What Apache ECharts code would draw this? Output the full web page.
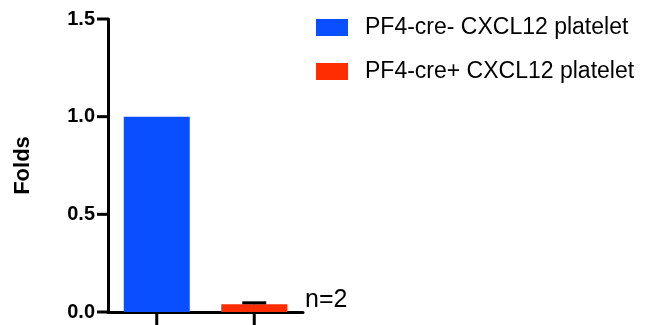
<!DOCTYPE html>
<html><head><meta charset="utf-8">
<script src="https://cdn.jsdelivr.net/npm/echarts@6/dist/echarts.min.js"></script>
<style>html,body{margin:0;padding:0;background:#fff}#c{width:651px;height:325px}</style>
</head><body><div id="c"></div>
<script>
const categories = ['PF4-cre- CXCL12 platelet', 'PF4-cre+ CXCL12 platelet'];
const seriesNames = ['PF4-cre- CXCL12 platelet', 'PF4-cre+ CXCL12 platelet'];
const means = [1.0, 0.04];
const errorsUpper = [null, 0.047];
const yTicks = [0, 0.5, 1.0, 1.5];
const colors = ['#0a4fff', '#ff2d00'];

const chart = echarts.init(document.getElementById('c'), null, {renderer: 'canvas'});
const font = 'Liberation Sans, Arial, sans-serif';
chart.setOption({
  animation: false,
  textStyle: {fontFamily: font},
  grid: {left: 108, right: 348, top: 19, bottom: 13, containLabel: false},
  legend: {
    orient: 'vertical', left: 311, top: 11,
    itemWidth: 32, itemHeight: 17, itemGap: 21,
    icon: 'rect',
    data: seriesNames,
    textStyle: {fontSize: 23, color: '#000', padding: [0, 0, 0, 12], fontFamily: font}
  },
  xAxis: {
    type: 'category', data: categories,
    axisLine: {lineStyle: {color: '#000', width: 3}},
    axisTick: {show: false},
    axisLabel: {show: false}
  },
  yAxis: {
    type: 'value', min: yTicks[0], max: yTicks[yTicks.length - 1], interval: 0.5,
    name: 'Folds', nameLocation: 'middle', nameGap: 74, nameRotate: 90,
    nameTextStyle: {fontSize: 22, fontWeight: 'bold', color: '#000', fontFamily: font},
    axisLine: {show: true, lineStyle: {color: '#000', width: 3}},
    axisTick: {show: false},
    splitLine: {show: false},
    axisLabel: {fontSize: 20, fontWeight: 'bold', color: '#000', margin: 13,
      formatter: v => v.toFixed(1), fontFamily: font}
  },
  series: [
    {name: seriesNames[0], type: 'bar', barWidth: 66, barGap: '-100%',
     itemStyle: {color: colors[0]}, data: [means[0], null]},
    {name: seriesNames[1], type: 'bar', barWidth: 66, barGap: '-100%',
     itemStyle: {color: colors[1]}, data: [null, means[1]]},
    {type: 'custom', z: 5,
     data: categories.map((c, i) => [i, means[i], errorsUpper[i]]),
     renderItem: function (params, api) {
       const up = api.value(2);
       if (up == null || isNaN(up)) return null;
       const base = api.coord([api.value(0), api.value(1)]);
       const top = api.coord([api.value(0), up]);
       const hw = 12;
       return {type: 'group', children: [
         {type: 'line', shape: {x1: base[0], y1: base[1], x2: top[0], y2: top[1]}, style: {stroke: '#000', lineWidth: 2}},
         {type: 'line', shape: {x1: top[0] - hw, y1: top[1], x2: top[0] + hw, y2: top[1]}, style: {stroke: '#000', lineWidth: 3}}
       ]};
     }},
    // y-axis ticks
    {type: 'custom', z: 6, silent: true, clip: false,
     data: yTicks.map(v => [0, v]),
     encode: {x: 0, y: 1},
     renderItem: function (params, api) {
       const y = api.coord([0, api.value(1)])[1];
       const x = params.coordSys.x;
       return {type: 'line', shape: {x1: x - 11, y1: y, x2: x, y2: y}, style: {stroke: '#000', lineWidth: 3}};
     }},
    // x-axis ticks
    {type: 'custom', z: 6, silent: true, clip: false,
     data: categories.map((c, i) => [i, 0]),
     encode: {x: 0, y: 1},
     renderItem: function (params, api) {
       const x = api.coord([api.value(0), 0])[0];
       const y = params.coordSys.y + params.coordSys.height;
       return {type: 'line', shape: {x1: x, y1: y, x2: x, y2: y + 13}, style: {stroke: '#000', lineWidth: 3}};
     }}
  ],
  graphic: [{type: 'text', left: 305, top: 288, style: {text: 'n=2', fontSize: 25, fill: '#000', fontFamily: font}}]
});
</script></body></html>
